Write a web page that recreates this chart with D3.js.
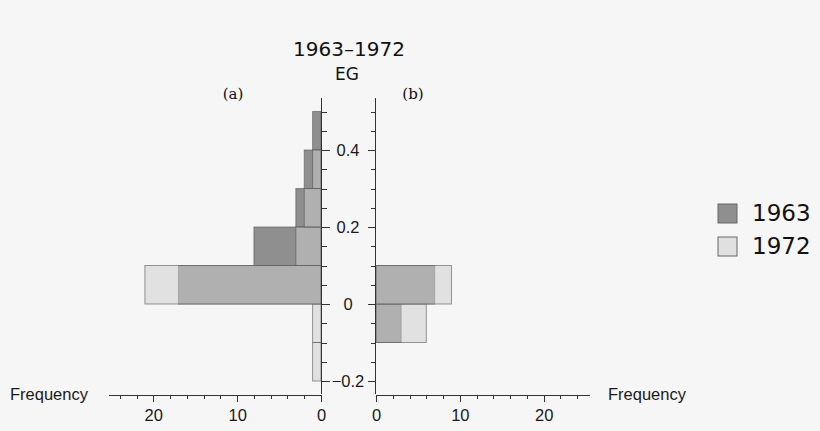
<!DOCTYPE html>
<html>
<head>
<meta charset="utf-8">
<script src="https://cdn.jsdelivr.net/npm/d3@7"></script>
<style>
  body { margin: 0; background: #f6f6f6; }
  svg { display: block; background: #f6f6f6; }
  .tick text { font-family: "Liberation Sans", Arial, sans-serif; font-size: 16px; fill: #1a1a1a; }
  .axis path, .axis line { stroke: #333; shape-rendering: crispEdges; }
</style>
</head>
<body>
<div id="chart"></div>
<script>
// bin lower edges (EG), width 0.1
var binStarts = [-0.2, -0.1, 0, 0.1, 0.2, 0.3, 0.4]
var binWidth = 0.1
// panel (a) frequencies
var a1963 = [0, 0, 17, 8, 3, 2, 1]
var a1972 = [1, 1, 21, 3, 2, 1, 0]
// panel (b) frequencies
var b1963 = [0, 3, 7, 0, 0, 0, 0]
var b1972 = [0, 6, 9, 0, 0, 0, 0]

var years = ['1963', '1972']
var yTickLabels = [-0.2, 0, 0.2, 0.4]
var xTickLabels = [0, 10, 20]

var W = 820, H = 431
var svg = d3.select('#chart').append('svg').attr('width', W).attr('height', H)

var y = d3.scaleLinear().domain([0, 0.4]).range([304, 150])
var xa = d3.scaleLinear().domain([0, 25.4]).range([321, 108])
var xb = d3.scaleLinear().domain([0, 25.4]).range([376, 589])
var xAxisY = 394

var fill1963 = '#8f8f8f', fill1972 = 'rgb(205,205,205)'

function bars(x, vals, fill, op){
  var g = svg.append('g')
  g.selectAll('rect').data(vals.map(function(v, i){ return {v: v, b: binStarts[i]} }).filter(function(d){ return d.v > 0 }))
    .enter().append('rect')
    .attr('x', function(d){ return Math.min(x(0), x(d.v)) })
    .attr('width', function(d){ return Math.abs(x(d.v) - x(0)) })
    .attr('y', function(d){ return y(d.b + binWidth) })
    .attr('height', function(d){ return y(d.b) - y(d.b + binWidth) })
    .attr('fill', fill).attr('fill-opacity', op)
    .attr('stroke', '#555').attr('stroke-opacity', 0.6).attr('stroke-width', 1)
}
bars(xa, a1963, fill1963, 1)
bars(xa, a1972, fill1972, 0.525)
bars(xb, b1963, fill1963, 1)
bars(xb, b1972, fill1972, 0.525)

// vertical axes
var yTicks = d3.range(-0.2, 0.5001, 0.05).map(function(d){ return Math.round(d * 100) / 100 })
function isMajorY(d){ return yTickLabels.indexOf(d) >= 0 }

var yTop = y(0.534), yBot = xAxisY
function vAxis(xpos, dir){
  var g = svg.append('g').attr('class', 'axis')
  g.append('line').attr('x1', xpos).attr('x2', xpos).attr('y1', yTop).attr('y2', yBot)
  g.selectAll('line.t').data(yTicks).enter().append('line').attr('class', 't')
    .attr('x1', xpos).attr('x2', function(d){ return xpos + dir * (isMajorY(d) ? 8 : 5) })
    .attr('y1', function(d){ return Math.round(y(d)) + 0.5 }).attr('y2', function(d){ return Math.round(y(d)) + 0.5 })
}
vAxis(321.5, 1)
vAxis(375.5, -1)

svg.append('g').selectAll('text').data(yTickLabels).enter().append('text')
  .attr('x', 348).attr('y', function(d){ return y(d) + 5.5 })
  .attr('text-anchor', 'middle')
  .style('font-family', '"Liberation Sans", Arial, sans-serif').style('font-size', '16.5px').style('fill', '#1a1a1a')
  .text(function(d){ return d === 0 ? '0' : (d < 0 ? '\u22120.' + String(d).split('.')[1] : String(d)) })

// horizontal axes
var xTicks = d3.range(0, 25, 2)
function hAxis(x){
  var ax = d3.axisBottom(x).tickValues(xTicks).tickSizeOuter(0)
    .tickFormat(function(d){ return xTickLabels.indexOf(d) >= 0 ? d : '' })
  var g = svg.append('g').attr('class', 'axis').attr('transform', 'translate(0,' + (xAxisY + 0.5) + ')').call(ax)
  g.selectAll('.tick line').attr('y2', function(d){ return xTickLabels.indexOf(d) >= 0 ? 7 : 4 })
  g.selectAll('.tick text').attr('y', 15).attr('dy', '0.71em').style('font-size', '16.5px')
  g.select('.domain').attr('stroke', '#333')
}
hAxis(xa)
hAxis(xb)

var sans = '"Liberation Sans", Arial, sans-serif'
svg.append('text').attr('x', 10).attr('y', 399.5).style('font-family', sans).style('font-size', '16.5px').style('fill', '#1a1a1a').text('Frequency')
svg.append('text').attr('x', 608).attr('y', 399.5).style('font-family', sans).style('font-size', '16.5px').style('fill', '#1a1a1a').text('Frequency')

// titles
svg.append('text').attr('x', 349).attr('y', 56).attr('text-anchor', 'middle')
  .style('font-family', '"DejaVu Sans", sans-serif').style('font-size', '20px').style('fill', '#111').text('1963\u20131972')
svg.append('text').attr('x', 347).attr('y', 80).attr('text-anchor', 'middle')
  .style('font-family', '"DejaVu Sans", sans-serif').style('font-size', '17px').style('fill', '#111').text('EG')
svg.append('text').attr('x', 233).attr('y', 99).attr('text-anchor', 'middle')
  .style('font-family', '"DejaVu Serif", serif').style('font-size', '15px').style('fill', '#111').text('(a)')
svg.append('text').attr('x', 413).attr('y', 99).attr('text-anchor', 'middle')
  .style('font-family', '"DejaVu Serif", serif').style('font-size', '15px').style('fill', '#111').text('(b)')

// legend
var leg = svg.append('g').selectAll('g').data(years).enter().append('g')
  .attr('transform', function(d, i){ return 'translate(718,' + (204 + i * 33) + ')' })
leg.append('rect').attr('width', 19).attr('height', 19)
  .attr('fill', function(d, i){ return i === 0 ? fill1963 : '#e0e0e0' })
  .attr('stroke', '#666').attr('stroke-width', 1)
leg.append('text').attr('x', 34).attr('y', 17)
  .style('font-family', '"DejaVu Sans", sans-serif').style('font-size', '23px').style('fill', '#111')
  .text(function(d){ return d })
</script>
</body>
</html>
